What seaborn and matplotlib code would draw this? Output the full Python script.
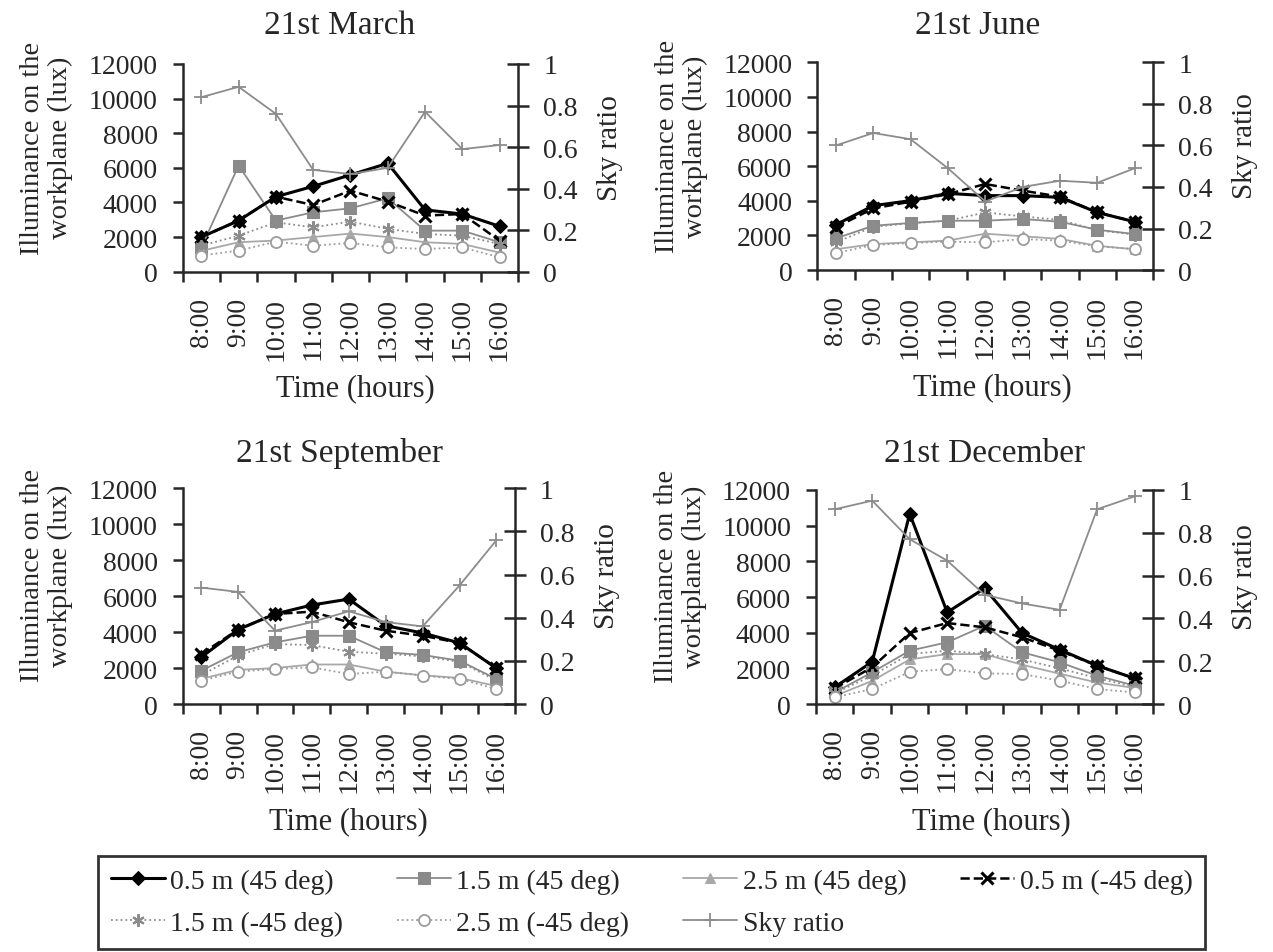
import numpy as np
import matplotlib
matplotlib.use("Agg")
import matplotlib.pyplot as plt
import seaborn as sns

# -------------------------
# Data
# -------------------------
hours = ["8:00", "9:00", "10:00", "11:00", "12:00", "13:00", "14:00", "15:00", "16:00"]

mar_05p = [2000, 2950, 4330, 4930, 5590, 6260, 3570, 3330, 2620]
mar_15p = [1400, 6130, 2950, 3430, 3660, 4240, 2370, 2370, 1700]
mar_25p = [1200, 1700, 1800, 2000, 2200, 2000, 1700, 1600, 1100]
mar_05n = [2000, 2950, 4330, 3850, 4680, 4050, 3240, 3330, 1790]
mar_15n = [1500, 2080, 2850, 2560, 2890, 2470, 2180, 2080, 1600]
mar_25n = [930, 1220, 1730, 1500, 1660, 1400, 1310, 1400, 830]
mar_sky = [0.84, 0.89, 0.76, 0.49, 0.47, 0.50, 0.77, 0.59, 0.61]

jun_05p = [2620, 3720, 4010, 4430, 4300, 4300, 4200, 3330, 2790]
jun_15p = [1830, 2560, 2720, 2850, 2850, 2950, 2790, 2330, 2080]
jun_25p = [1200, 1500, 1600, 1700, 2100, 1950, 1800, 1400, 1200]
jun_05n = [2470, 3560, 3950, 4390, 4970, 4590, 4240, 3330, 2790]
jun_15n = [1600, 2500, 2700, 2850, 3330, 3100, 2900, 2300, 2050]
jun_25n = [980, 1450, 1560, 1640, 1600, 1790, 1700, 1370, 1210]
jun_sky = [0.60, 0.66, 0.63, 0.49, 0.33, 0.40, 0.43, 0.42, 0.49]

sep_05p = [2600, 4140, 5010, 5510, 5840, 4360, 3950, 3400, 1990]
sep_15p = [1850, 2880, 3430, 3800, 3800, 2880, 2730, 2410, 1390]
sep_25p = [1400, 1900, 2000, 2200, 2200, 1800, 1600, 1450, 1000]
sep_05n = [2780, 4140, 5010, 5140, 4550, 4080, 3800, 3400, 1990]
sep_15n = [1600, 2700, 3340, 3280, 2910, 2800, 2650, 2350, 1300]
sep_25n = [1300, 1800, 1950, 2040, 1670, 1800, 1580, 1390, 840]
sep_sky = [0.54, 0.52, 0.34, 0.38, 0.43, 0.38, 0.36, 0.55, 0.76]

dec_05p = [940, 2370, 10670, 5140, 6490, 3980, 3050, 2150, 1440]
dec_15p = [650, 1780, 2990, 3460, 4390, 2900, 2340, 1590, 1030]
dec_25p = [450, 1300, 2500, 2800, 2800, 2200, 1700, 1200, 900]
dec_05n = [880, 2060, 3980, 4540, 4300, 3740, 2990, 2150, 1440]
dec_15n = [600, 1600, 2800, 2990, 2800, 2500, 2000, 1450, 950]
dec_25n = [380, 840, 1810, 1960, 1720, 1680, 1310, 840, 650]
dec_sky = [0.91, 0.95, 0.77, 0.67, 0.51, 0.47, 0.44, 0.91, 0.97]

titles = ["21st March", "21st June", "21st September", "21st December"]
series_names = ["0.5 m (45 deg)", "1.5 m (45 deg)", "2.5 m (45 deg)",
                "0.5 m (-45 deg)", "1.5 m (-45 deg)", "2.5 m (-45 deg)"]

months = [
    [mar_05p, mar_15p, mar_25p, mar_05n, mar_15n, mar_25n, mar_sky],
    [jun_05p, jun_15p, jun_25p, jun_05n, jun_15n, jun_25n, jun_sky],
    [sep_05p, sep_15p, sep_25p, sep_05n, sep_15n, sep_25n, sep_sky],
    [dec_05p, dec_15p, dec_25p, dec_05n, dec_15n, dec_25n, dec_sky],
]

# -------------------------
# Styles
# -------------------------
styles = [
    dict(color="black", lw=2.2, ls="-", marker="D", ms=7, mfc="black", mec="black"),
    dict(color="#8a8a8a", lw=1.3, ls="-", marker="s", ms=8, mfc="#8a8a8a", mec="#8a8a8a"),
    dict(color="#a8a8a8", lw=1.3, ls="-", marker="^", ms=7, mfc="#a8a8a8", mec="#a8a8a8"),
    dict(color="black", lw=1.8, ls="--", marker="x", ms=9, mew=2.2, mec="black"),
    dict(color="#8c8c8c", lw=1.3, ls=":", marker=(6, 2, 0), ms=9, mew=1.5, mec="#8c8c8c"),
    dict(color="#9c9c9c", lw=1.3, ls=":", marker="o", ms=8, mfc="white", mec="#9c9c9c", mew=1.3),
]
sky_style = dict(color="#8c8c8c", lw=1.3, ls="-", marker="+", ms=10, mew=1.3, mec="#8c8c8c")

sns.set_style("ticks")
plt.rcParams["font.family"] = ["Liberation Serif", "DejaVu Serif"]
plt.rcParams["axes.linewidth"] = 1.8

fig = plt.figure(figsize=(12.73, 9.53), dpi=100)

# axes rectangles in figure fraction
rects = [
    [0.1435, 0.7139, 0.2636, 0.2179],
    [0.6420, 0.7156, 0.2639, 0.2179],
    [0.1435, 0.2602, 0.2610, 0.2263],
    [0.6410, 0.2602, 0.2650, 0.2246],
]
title_pos = [(340, 26), (978, 26), (340, 454), (985, 454)]
xlabel_x = [0.516, 0.52, 0.50, 0.52]

TICK_FS = 20
pos = np.arange(len(hours))
handles = None

for i, data in enumerate(months):
    ax = fig.add_axes(rects[i])
    ax2 = ax.twinx()

    for j in range(6):
        sns.lineplot(x=pos, y=data[j], ax=ax, label=series_names[j], legend=False,
                     **styles[j])
    sns.lineplot(x=pos, y=data[6], ax=ax2, label="Sky ratio", legend=False, **sky_style)

    # left axis
    ax.set_ylim(0, 12000)
    ax.set_yticks(np.arange(0, 12001, 2000))
    ax.set_xlim(-0.5, len(hours) - 0.5)
    ax.set_xticks(pos)
    ax.set_xticklabels(hours, rotation=90)
    ax.set_xticks(np.arange(-0.5, len(hours)), minor=True)
    ax.tick_params(axis="x", which="major", length=0, pad=18, labelsize=TICK_FS)
    ax.tick_params(axis="x", which="minor", length=7, width=1.8, direction="out")
    ax.tick_params(axis="y", length=7, width=1.8, direction="out", pad=11, labelsize=TICK_FS)
    for s in ["top", "right"]:
        ax.spines[s].set_visible(False)

    # right axis
    ax2.set_ylim(0, 1)
    ax2.set_yticks([0, 0.2, 0.4, 0.6, 0.8, 1])
    ax2.set_yticklabels(["0", "0.2", "0.4", "0.6", "0.8", "1"])
    ax2.tick_params(axis="y", length=16, width=1.8, direction="inout", pad=10, labelsize=TICK_FS)
    ax2.spines["top"].set_visible(False)
    ax2.spines["left"].set_visible(False)
    ax2.spines["bottom"].set_visible(False)

    ax.set_xlabel("Time (hours)", fontsize=22, labelpad=10, x=xlabel_x[i])
    ax.set_ylabel("Illuminance on the\nworkplane (lux)", fontsize=20.5, labelpad=11,
                  linespacing=1.15, y=0.6)
    ax2.set_ylabel("Sky ratio", fontsize=21, labelpad=14, y=0.6)

    tx, ty = title_pos[i]
    fig.text(tx / 1273, 1 - ty / 953, titles[i], fontsize=24, ha="center", va="center")

    if handles is None:
        h1, l1 = ax.get_legend_handles_labels()
        h2, l2 = ax2.get_legend_handles_labels()
        handles, labels = h1 + h2, l1 + l2

# -------------------------
# Legend (row-major order in 4 columns)
# -------------------------
order = [0, 4, 1, 5, 2, 6, 3]
leg = fig.legend([handles[k] for k in order], [labels[k] for k in order],
                 loc="upper left", bbox_to_anchor=(98 / 1273, 0.0, (1205 - 98) / 1273, 1 - 857 / 953),
                 mode="expand", ncol=4, fontsize=20, frameon=True, fancybox=False,
                 handlelength=1.95, handletextpad=0.2, columnspacing=1.0,
                 borderpad=0.45, labelspacing=0.6, borderaxespad=0)
leg.get_frame().set_edgecolor("black")
leg.get_frame().set_linewidth(2)

fig.savefig("out.png", dpi=100)
